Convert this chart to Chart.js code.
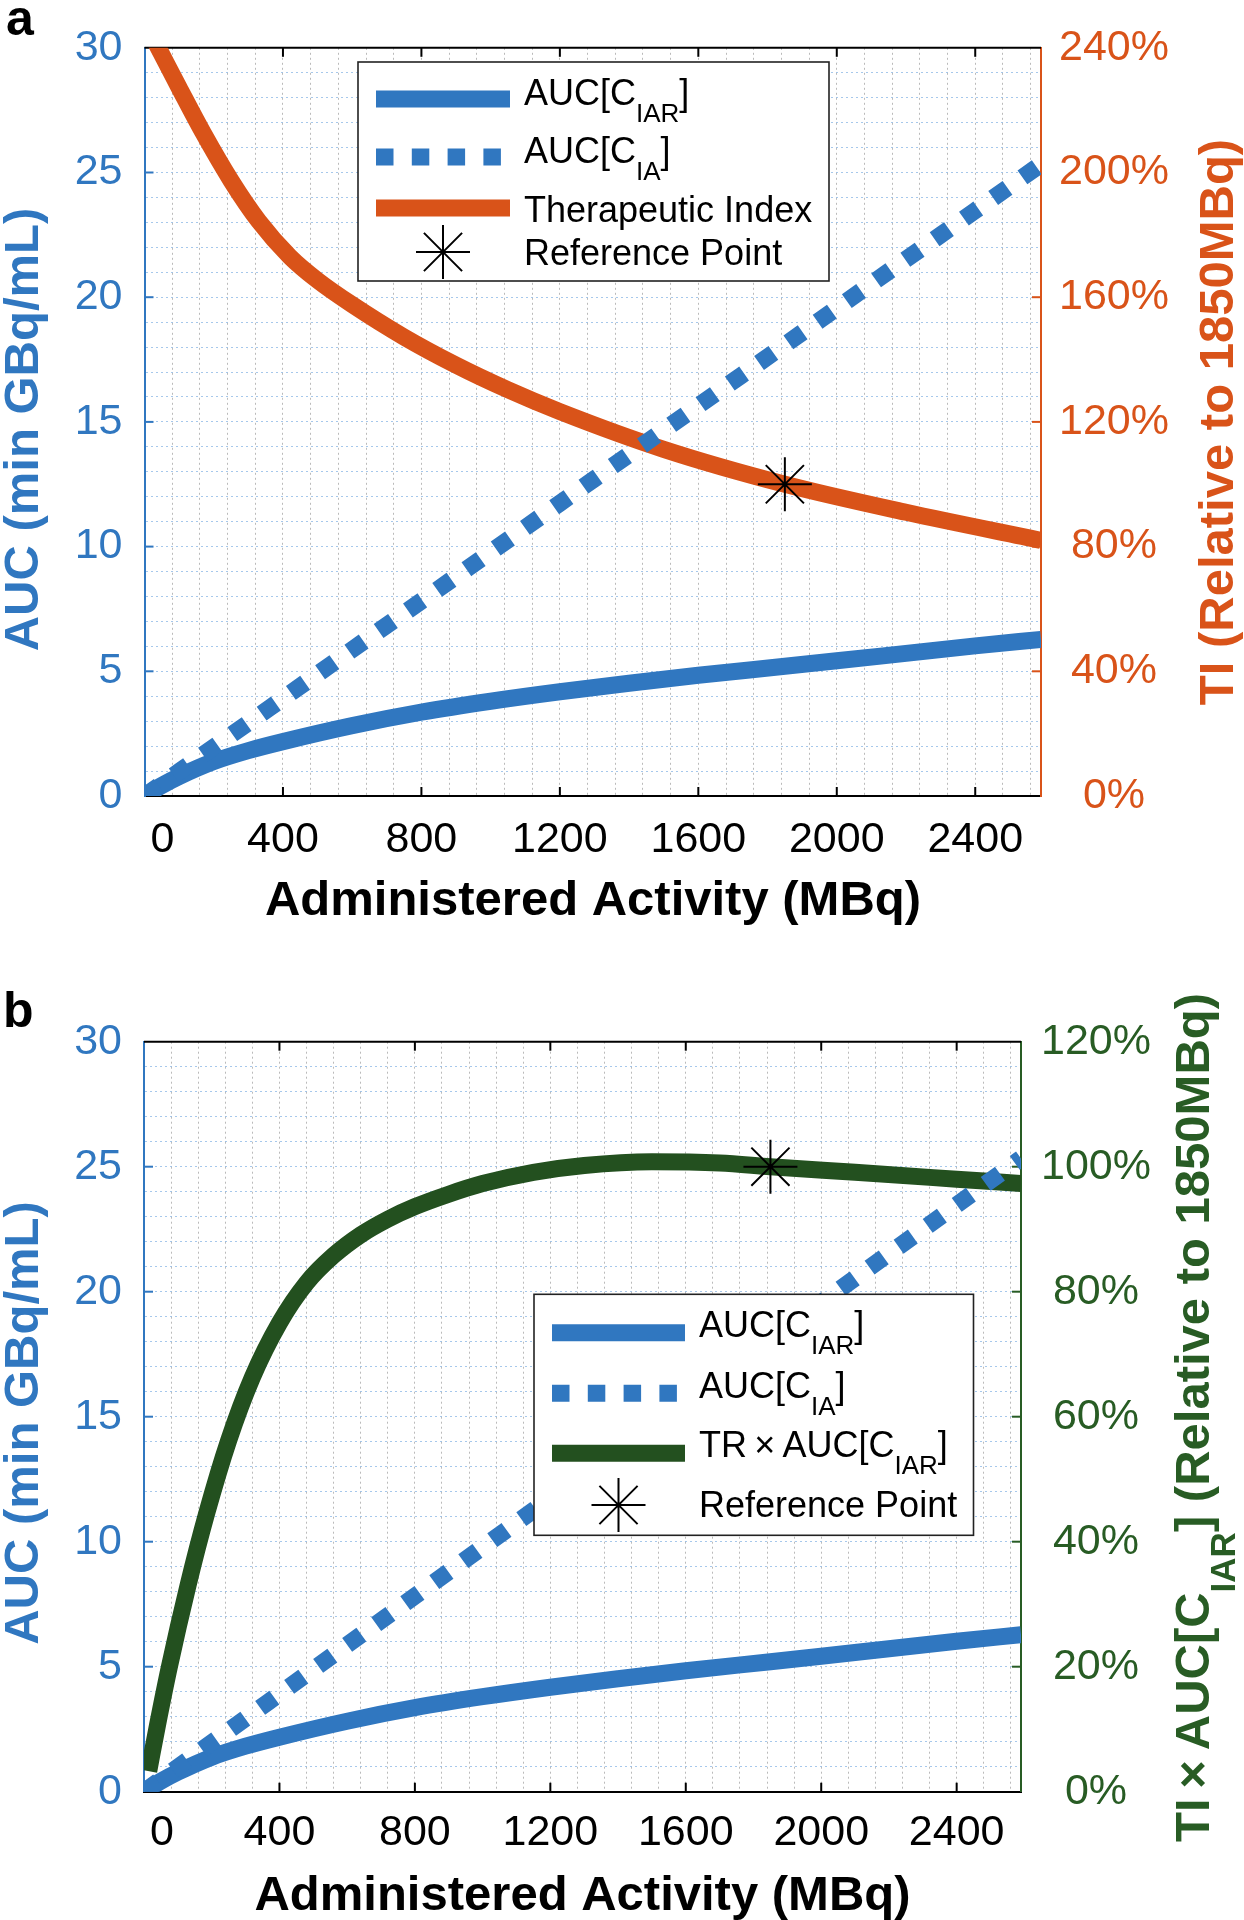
<!DOCTYPE html>
<html lang="en">
<head>
<meta charset="utf-8">
<title>AUC and therapeutic index vs administered activity</title>
<style>
  html, body { margin: 0; padding: 0; background: #fff; }
  .panel { position: absolute; left: 0; width: 1244px; height: 960px; }
  #panelA { top: 0; }
  #panelB { top: 960px; }
</style>
</head>
<body>
<div class="panel" id="panelA"><canvas id="chartA" width="1244" height="960"></canvas></div>
<div class="panel" id="panelB"><canvas id="chartB" width="1244" height="960"></canvas></div>

<script src="https://cdn.jsdelivr.net/npm/chart.js@4.4.1/dist/chart.umd.min.js"></script>
<script>
  // administered activity (MBq), shared by both AUC curves
  const activity = [0, 50, 100, 200, 300, 400, 600, 800, 1000, 1200, 1400, 1600, 1850, 2000, 2200, 2400, 2590];
  // AUC[C_IAR] (min GBq/mL)
  const aucIAR = [0, 0.42, 0.78, 1.38, 1.82, 2.18, 2.82, 3.36, 3.8, 4.18, 4.52, 4.84, 5.2, 5.42, 5.72, 6.02, 6.28];
  // AUC[C_IA] (min GBq/mL)
  const aucIA = [0, 0.49, 0.98, 1.96, 2.93, 3.91, 5.87, 7.82, 9.78, 11.74, 13.69, 15.65, 18.09, 19.56, 21.52, 23.47, 25.33];

  // panel a: therapeutic index, % relative to 1850 MBq
  const tiActivity = [0, 40, 100, 170, 250, 330, 420, 500, 600, 750, 900, 1050, 1200, 1500, 1850, 2200, 2590];
  const tiPercent = [248.5, 240, 227.2, 212.6, 197.4, 184.4, 173, 165.4, 157.6, 147.2, 138.2, 130.3, 123.3, 111.2, 100, 91, 82];

  // panel b: TI x AUC[C_IAR], % relative to 1850 MBq
  const prodActivity = [14, 40, 75, 130, 185, 250, 320, 400, 480, 560, 640, 720, 800, 900, 1000, 1150, 1300, 1500, 1700, 1850, 2100, 2400, 2590];
  const prodPercent = [3.3, 10.7, 20, 33, 44.5, 56.2, 66.3, 75, 81.4, 85.8, 89.1, 91.6, 93.6, 95.6, 97.3, 99.1, 100.2, 100.8, 100.6, 100, 99.1, 98, 97.3];

  // reference point
  const refActivity = [1850];
  const refPercent = [100];

  // tick labels
  const xTicks = [0, 400, 800, 1200, 1600, 2000, 2400];
  const aucTicks = [0, 5, 10, 15, 20, 25, 30];
  const tiTicks = [0, 40, 80, 120, 160, 200, 240];
  const prodTicks = [0, 20, 40, 60, 80, 100, 120];

  const W = 1244, H = 960;
  const BLUE = '#3077C0', ORANGE = '#D95319', GREEN_LINE = '#23501F', GREEN = '#285C24';
  const FONT = 'Liberation Sans';
  const LINE_W = 17;
  const DOTS = [17.5, 18.3];
  const TICK = 9;

  Chart.defaults.font.family = FONT;

  const pts = (xs, ys) => xs.map((x, i) => ({ x: x, y: ys[i] }));

  function seg(ctx, x1, y1, x2, y2) {
    ctx.beginPath();
    ctx.moveTo(x1, y1);
    ctx.lineTo(x2, y2);
    ctx.stroke();
  }

  function richWidth(ctx, parts, font, subFont) {
    let w = 0;
    parts.forEach(p => { ctx.font = p.sub ? subFont : font; w += ctx.measureText(p.t).width; });
    return w;
  }

  function drawRich(ctx, parts, x, y, font, subFont, shift) {
    ctx.textAlign = 'left';
    ctx.textBaseline = 'alphabetic';
    parts.forEach(p => {
      ctx.font = p.sub ? subFont : font;
      ctx.fillText(p.t, x, p.sub ? y + shift : y);
      x += ctx.measureText(p.t).width;
    });
  }

  function drawVertTitle(ctx, t, color) {
    const font = 'bold 49px ' + FONT, sub = 'bold 35px ' + FONT;
    ctx.save();
    ctx.fillStyle = color;
    ctx.translate(t.x, t.y);
    ctx.rotate(-Math.PI / 2);
    const w = richWidth(ctx, t.parts, font, sub);
    drawRich(ctx, t.parts, -w / 2, 0, font, sub, 26);
    ctx.restore();
  }

  function drawLegend(ctx, L) {
    const [x0, y0, x1, y1] = L.box;
    ctx.save();
    ctx.fillStyle = '#fff';
    ctx.fillRect(x0, y0, x1 - x0, y1 - y0);
    ctx.strokeStyle = '#222';
    ctx.lineWidth = 1.6;
    ctx.strokeRect(x0, y0, x1 - x0, y1 - y0);
    L.rows.forEach(r => {
      if (r.star) {
        ctx.strokeStyle = '#000';
        ctx.lineWidth = 2;
        ctx.setLineDash([]);
        Chart.helpers.drawPoint(ctx, { pointStyle: 'star', radius: 27, rotation: 0, borderWidth: 2 }, L.starX, r.lineY);
      } else {
        ctx.strokeStyle = r.color;
        ctx.lineWidth = LINE_W;
        ctx.lineCap = 'butt';
        ctx.setLineDash(r.dash || []);
        seg(ctx, L.lineX[0], r.lineY, L.lineX[1], r.lineY);
        ctx.setLineDash([]);
      }
      ctx.fillStyle = '#000';
      drawRich(ctx, r.parts, L.textX, r.base, '36px ' + FONT, '26px ' + FONT, 17);
    });
    ctx.restore();
  }

  function makeDecor(spec) {
    return {
      id: 'decor',
      beforeDatasetsDraw(chart) {
        const { ctx, chartArea: a, scales } = chart;
        ctx.save();
        ctx.lineWidth = 2;
        ctx.strokeStyle = '#000';
        seg(ctx, a.left, a.top, a.right, a.top);
        xTicks.filter(v => v > 0).forEach(v => {
          const px = scales.x.getPixelForValue(v);
          seg(ctx, px, a.bottom, px, a.bottom - TICK);
          seg(ctx, px, a.top, px, a.top + TICK);
        });
        ctx.strokeStyle = BLUE;
        aucTicks.filter(v => v > 0 && v < 30).forEach(v => {
          const py = scales.y.getPixelForValue(v);
          seg(ctx, a.left, py, a.left + TICK, py);
        });
        ctx.strokeStyle = spec.rightColor;
        spec.rightTicks.filter(v => v > 0 && v < spec.rightMax).forEach(v => {
          const py = scales.y1.getPixelForValue(v);
          seg(ctx, a.right, py, a.right - TICK, py);
        });
        ctx.restore();
      },
      afterDraw(chart) {
        const ctx = chart.ctx;
        ctx.save();
        // panel letter
        ctx.fillStyle = '#000';
        ctx.font = 'bold 50px ' + FONT;
        ctx.textAlign = 'left';
        ctx.textBaseline = 'alphabetic';
        ctx.fillText(spec.letter.t, spec.letter.x, spec.letter.y);
        // x title
        ctx.font = 'bold 49px ' + FONT;
        ctx.textAlign = 'center';
        ctx.fillText('Administered Activity (MBq)', spec.xTitle.x, spec.xTitle.y);
        ctx.restore();
        drawVertTitle(ctx, spec.leftTitle, BLUE);
        drawVertTitle(ctx, spec.rightTitle, spec.rightColor);
        drawLegend(ctx, spec.legend);
      }
    };
  }

  function makeChart(spec) {
    const datasets = [
      {
        data: pts(refActivity, refPercent), yAxisID: 'y1', order: 0, showLine: false,
        pointStyle: 'star', pointRadius: 27, pointBorderWidth: 2, pointBorderColor: '#000',
        pointBackgroundColor: 'transparent'
      },
      {
        data: pts(activity, aucIA), yAxisID: 'y', order: 1, borderColor: BLUE, borderWidth: LINE_W,
        borderDash: DOTS, borderCapStyle: 'butt', pointRadius: 0, cubicInterpolationMode: 'monotone'
      },
      {
        data: pts(activity, aucIAR), yAxisID: 'y', order: 2, borderColor: BLUE, borderWidth: LINE_W,
        pointRadius: 0, cubicInterpolationMode: 'monotone'
      },
      {
        data: pts(spec.xs, spec.ys), yAxisID: 'y1', order: 3, borderColor: spec.lineColor, borderWidth: LINE_W,
        pointRadius: 0, cubicInterpolationMode: 'monotone'
      }
    ];

    return new Chart(document.getElementById(spec.canvas), {
      type: 'line',
      data: { datasets: datasets },
      options: {
        responsive: false,
        animation: false,
        events: [],
        layout: { padding: { top: spec.top, left: 0, right: 0, bottom: 0 } },
        plugins: { legend: { display: false }, tooltip: { enabled: false } },
        scales: {
          x: {
            type: 'linear', min: 0, max: 2590,
            afterFit: s => { s.height = H - spec.bottom; },
            ticks: {
              stepSize: 80, includeBounds: false, autoSkip: false, maxRotation: 0, minRotation: 0,
              padding: spec.xPad, color: '#000', font: { size: 43 },
              callback: v => xTicks.includes(v) ? (v === 0 ? '   0' : String(v)) : ''
            },
            grid: { color: 'rgba(140,140,140,0.6)', lineWidth: 1, drawTicks: false },
            border: { color: '#000', width: 2, dash: [2, 3] }
          },
          y: {
            position: 'left', min: 0, max: 30,
            afterFit: s => { s.width = spec.left; },
            ticks: {
              stepSize: 1, autoSkip: false, padding: 22, color: BLUE, font: { size: 43 },
              callback: v => aucTicks.includes(v) ? String(v) : ''
            },
            grid: { color: 'rgba(120,170,225,0.65)', lineWidth: 1, drawTicks: false },
            border: { color: BLUE, width: 2, dash: [2, 3] }
          },
          y1: {
            position: 'right', min: 0, max: spec.rightMax,
            afterFit: s => { s.width = W - spec.right; },
            ticks: {
              stepSize: spec.rightStep, autoSkip: false, padding: spec.rightPad, crossAlign: 'center',
              color: spec.rightColor, font: { size: 43 },
              callback: v => v + '%'
            },
            grid: { drawOnChartArea: false, drawTicks: false },
            border: { color: spec.rightColor, width: 2 }
          }
        }
      },
      plugins: [makeDecor(spec)]
    });
  }

  const subIAR = [{ t: 'AUC[C' }, { t: 'IAR', sub: true }, { t: ']' }];
  const subIA = [{ t: 'AUC[C' }, { t: 'IA', sub: true }, { t: ']' }];

  makeChart({
    canvas: 'chartA', top: 46.5, bottom: 796, left: 144.5, right: 1041,
    xs: tiActivity, ys: tiPercent, lineColor: ORANGE,
    rightColor: ORANGE, rightMax: 240, rightStep: 40, rightTicks: tiTicks, rightPad: 18, xPad: 18,
    letter: { t: 'a', x: 6, y: 35 },
    xTitle: { x: 593, y: 915 },
    leftTitle: { parts: [{ t: 'AUC (min GBq/mL)' }], x: 37.5, y: 429.5 },
    rightTitle: { parts: [{ t: 'TI (Relative to 1850MBq)' }], x: 1233, y: 422 },
    legend: {
      box: [358, 62, 829, 281], lineX: [376, 510], starX: 443, textX: 524,
      rows: [
        { color: BLUE, lineY: 99, base: 105, parts: subIAR },
        { color: BLUE, dash: DOTS, lineY: 157, base: 163, parts: subIA },
        { color: ORANGE, lineY: 208, base: 222, parts: [{ t: 'Therapeutic Index' }] },
        { star: true, lineY: 252, base: 265, parts: [{ t: 'Reference Point' }] }
      ]
    }
  });

  makeChart({
    canvas: 'chartB', top: 81.7, bottom: 831.7, left: 144, right: 1021,
    xs: prodActivity, ys: prodPercent, lineColor: GREEN_LINE,
    rightColor: GREEN, rightMax: 120, rightStep: 20, rightTicks: prodTicks, rightPad: 20, xPad: 15.5,
    letter: { t: 'b', x: 3, y: 67 },
    xTitle: { x: 582.5, y: 950 },
    leftTitle: { parts: [{ t: 'AUC (min GBq/mL)' }], x: 37.5, y: 463 },
    rightTitle: {
      parts: [{ t: 'TI\u2009×\u2009AUC[C' }, { t: 'IAR', sub: true }, { t: '] (Relative to 1850MBq)' }],
      x: 1209, y: 457.5
    },
    legend: {
      box: [534, 334.3, 973.5, 575.3], lineX: [552, 685], starX: 618.5, textX: 699,
      rows: [
        { color: BLUE, lineY: 372.7, base: 377, parts: subIAR },
        { color: BLUE, dash: DOTS, lineY: 433.3, base: 438, parts: subIA },
        { color: GREEN_LINE, lineY: 493.3, base: 497, parts: [{ t: 'TR\u2009×\u2009AUC[C' }, { t: 'IAR', sub: true }, { t: ']' }] },
        { star: true, lineY: 545, base: 557, parts: [{ t: 'Reference Point' }] }
      ]
    }
  });
</script>
</body>
</html>
